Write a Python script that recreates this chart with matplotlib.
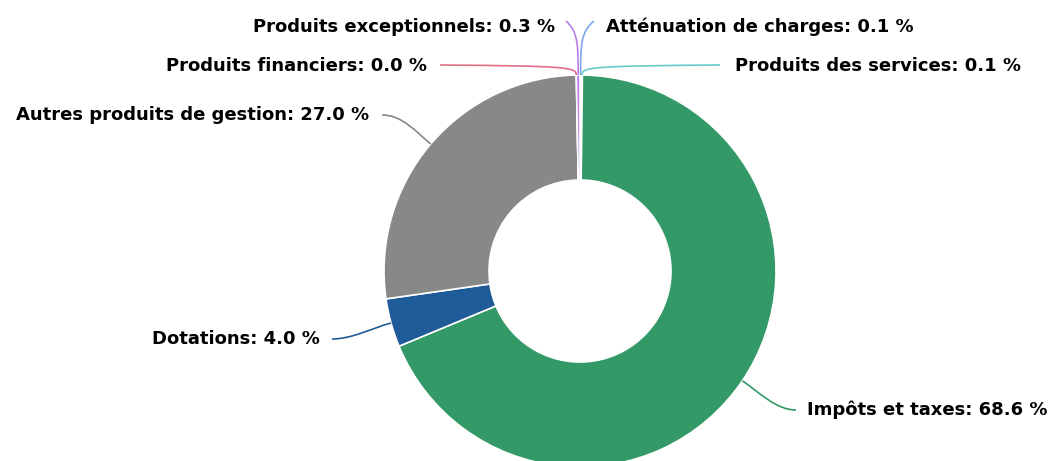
import numpy as np
import matplotlib.pyplot as plt
from matplotlib.path import Path
from matplotlib.patches import PathPatch

# data
labels = ['Atténuation de charges', 'Produits des services', 'Impôts et taxes',
          'Dotations', 'Autres produits de gestion', 'Produits financiers',
          'Produits exceptionnels']
values = [0.1, 0.1, 68.6, 4.0, 27.0, 0.0, 0.3]
colors = ['#7fa6e6', '#66cccc', '#339966', '#1f5b99', '#888888', '#e0708a', '#b87fe6']

W, H = 1053, 461
fig = plt.figure(figsize=(W / 100, H / 100), dpi=100)
ax = fig.add_axes([0, 0, 1, 1])

cx, cy = 580, H - 271
R = 196
ax.pie(values, colors=colors, startangle=90, counterclock=False, radius=R,
       center=(cx, cy), wedgeprops=dict(width=R - 91, edgecolor='white', linewidth=1.2),
       frame=True)
ax.set_xlim(0, W)
ax.set_ylim(0, H)
ax.set_aspect('equal')
ax.axis('off')

# label layout (pixel coords from top-left): text anchor x, y, ha, connector end x
layout = {
    'Atténuation de charges': (606, 27, 'left', 594),
    'Produits des services': (735, 66, 'left', 720),
    'Impôts et taxes': (807, 410, 'left', 796),
    'Dotations': (320, 339, 'right', 332),
    'Autres produits de gestion': (369, 115, 'right', 382),
    'Produits financiers': (427, 66, 'right', 440),
    'Produits exceptionnels': (555, 27, 'right', 566),
}

total = sum(values)
start = 0.0
for name, v, c in zip(labels, values, colors):
    mid = (start + v / 2) / total * 2 * np.pi
    start += v
    ux, uy = np.sin(mid), np.cos(mid)
    x0, y0 = cx + R * ux, cy + R * uy
    tx, ty, ha, ex = layout[name]
    ey = H - ty
    side = 1 if ha == 'left' else -1
    if name in ('Atténuation de charges', 'Produits exceptionnels'):
        p1 = (x0, y0 + 30)
        p2 = (x0, ey - 5)
        p3 = (ex, ey + 6)
    elif name in ('Produits des services', 'Produits financiers'):
        p1 = (x0, y0 + 8)
        p2 = (x0 + side * 10, ey)
        p3 = (ex, ey + 1)
    else:
        p1 = (x0 + ux * 20, y0 + uy * 20)
        p2 = (ex - side * 20, ey)
        p3 = (ex, ey)
    path = Path([(x0, y0), p1, p2, p3], [Path.MOVETO, Path.CURVE4, Path.CURVE4, Path.CURVE4])
    ax.add_patch(PathPatch(path, fc='none', ec=c, lw=1.2))
    ax.text(tx, ey, f'{name}: {v:.1f} %', ha=ha, va='center', fontsize=13,
            fontweight='bold', color='#000000', family='DejaVu Sans')

fig.savefig('out.png', dpi=100, facecolor='white')
